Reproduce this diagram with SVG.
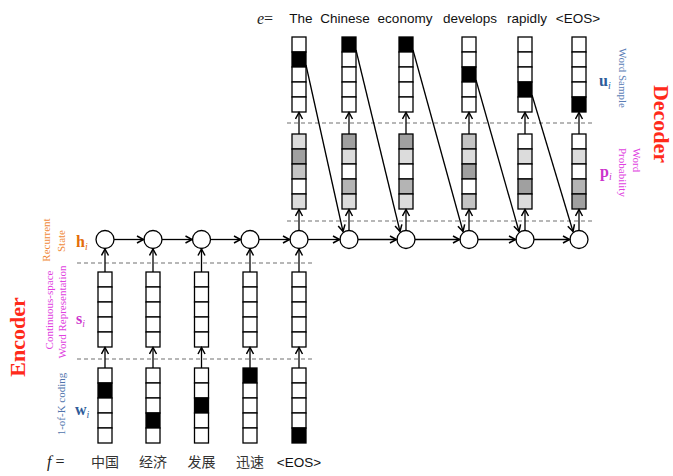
<svg xmlns="http://www.w3.org/2000/svg" width="673" height="476" viewBox="0 0 673 476">
<defs>
<marker id="ah" markerUnits="userSpaceOnUse" markerWidth="10" markerHeight="10" refX="7.5" refY="4.5" orient="auto">
<path d="M1,1 L7.5,4.5 L1,8" fill="none" stroke="#000" stroke-width="1.5"/>
</marker>
<style>
.cell{fill:#fff;stroke:#000;stroke-width:1.3}
.blk{fill:#000;stroke:#000;stroke-width:1.3}
.g1{fill:#dcdcdc;stroke:#000;stroke-width:1.3}
.g2{fill:#c4c4c4;stroke:#000;stroke-width:1.3}
.g3{fill:#a0a0a0;stroke:#000;stroke-width:1.3}
.g4{fill:#b4b4b4;stroke:#000;stroke-width:1.3}
.node{fill:#fff;stroke:#000;stroke-width:1.3}
.ar{stroke:#000;stroke-width:1.3;fill:none;marker-end:url(#ah)}
.dash{stroke:#a0a0a0;stroke-width:1.6;stroke-dasharray:4 3;fill:none}
.word{font-family:"Liberation Sans",Arial,sans-serif;font-size:13.5px;fill:#111;text-anchor:middle}
.zh{font-family:"Noto Sans CJK SC","Noto Sans",sans-serif;font-size:14px;fill:#333;text-anchor:middle}
.lab{font-family:"Liberation Serif","Times New Roman",serif;font-size:11px}
.sym{font-family:"Liberation Serif","Times New Roman",serif;font-size:16px;font-weight:bold}
.sub{font-size:10px;font-style:italic;font-weight:normal}
.big{font-family:"Liberation Serif","Times New Roman",serif;font-size:22px;font-weight:bold;fill:#ff2a1a;text-anchor:middle}
</style>
</defs>

<!-- dashed separators -->
<g id="separators">
<line class="dash" x1="77" y1="263" x2="312" y2="263"/>
<line class="dash" x1="77" y1="359" x2="312" y2="359"/>
<line class="dash" x1="287" y1="123" x2="592" y2="123"/>
<line class="dash" x1="287" y1="221" x2="592" y2="221"/>
</g>

<!-- Encoder columns -->
<g id="enc1">
<rect class="cell" x="98" y="272" width="14" height="15"/><rect class="cell" x="98" y="287" width="14" height="15"/><rect class="cell" x="98" y="302" width="14" height="15"/><rect class="cell" x="98" y="317" width="14" height="15"/><rect class="cell" x="98" y="332" width="14" height="15"/>
<rect class="cell" x="98" y="368" width="14" height="15"/><rect class="blk" x="98" y="383" width="14" height="15"/><rect class="cell" x="98" y="398" width="14" height="15"/><rect class="cell" x="98" y="413" width="14" height="15"/><rect class="cell" x="98" y="428" width="14" height="15"/>
<circle class="node" cx="105" cy="239.5" r="9"/>
<text class="zh" x="105" y="467">中国</text>
</g>
<g id="enc2">
<rect class="cell" x="146" y="272" width="14" height="15"/><rect class="cell" x="146" y="287" width="14" height="15"/><rect class="cell" x="146" y="302" width="14" height="15"/><rect class="cell" x="146" y="317" width="14" height="15"/><rect class="cell" x="146" y="332" width="14" height="15"/>
<rect class="cell" x="146" y="368" width="14" height="15"/><rect class="cell" x="146" y="383" width="14" height="15"/><rect class="cell" x="146" y="398" width="14" height="15"/><rect class="blk" x="146" y="413" width="14" height="15"/><rect class="cell" x="146" y="428" width="14" height="15"/>
<circle class="node" cx="153" cy="239.5" r="9"/>
<text class="zh" x="153" y="467">经济</text>
</g>
<g id="enc3">
<rect class="cell" x="194.5" y="272" width="14" height="15"/><rect class="cell" x="194.5" y="287" width="14" height="15"/><rect class="cell" x="194.5" y="302" width="14" height="15"/><rect class="cell" x="194.5" y="317" width="14" height="15"/><rect class="cell" x="194.5" y="332" width="14" height="15"/>
<rect class="cell" x="194.5" y="368" width="14" height="15"/><rect class="cell" x="194.5" y="383" width="14" height="15"/><rect class="blk" x="194.5" y="398" width="14" height="15"/><rect class="cell" x="194.5" y="413" width="14" height="15"/><rect class="cell" x="194.5" y="428" width="14" height="15"/>
<circle class="node" cx="201.5" cy="239.5" r="9"/>
<text class="zh" x="201.5" y="467">发展</text>
</g>
<g id="enc4">
<rect class="cell" x="243" y="272" width="14" height="15"/><rect class="cell" x="243" y="287" width="14" height="15"/><rect class="cell" x="243" y="302" width="14" height="15"/><rect class="cell" x="243" y="317" width="14" height="15"/><rect class="cell" x="243" y="332" width="14" height="15"/>
<rect class="blk" x="243" y="368" width="14" height="15"/><rect class="cell" x="243" y="383" width="14" height="15"/><rect class="cell" x="243" y="398" width="14" height="15"/><rect class="cell" x="243" y="413" width="14" height="15"/><rect class="cell" x="243" y="428" width="14" height="15"/>
<circle class="node" cx="250" cy="239.5" r="9"/>
<text class="zh" x="250" y="467">迅速</text>
</g>
<g id="enc5">
<rect class="cell" x="292" y="272" width="14" height="15"/><rect class="cell" x="292" y="287" width="14" height="15"/><rect class="cell" x="292" y="302" width="14" height="15"/><rect class="cell" x="292" y="317" width="14" height="15"/><rect class="cell" x="292" y="332" width="14" height="15"/>
<rect class="cell" x="292" y="368" width="14" height="15"/><rect class="cell" x="292" y="383" width="14" height="15"/><rect class="cell" x="292" y="398" width="14" height="15"/><rect class="cell" x="292" y="413" width="14" height="15"/><rect class="blk" x="292" y="428" width="14" height="15"/>
<circle class="node" cx="299" cy="239.5" r="9"/>
<text class="word" x="299" y="467">&lt;EOS&gt;</text>
</g>

<!-- Decoder columns -->
<g id="dec1">
<rect class="cell" x="292" y="37" width="14" height="15"/><rect class="blk" x="292" y="52" width="14" height="15"/><rect class="cell" x="292" y="67" width="14" height="15"/><rect class="cell" x="292" y="82" width="14" height="15"/><rect class="cell" x="292" y="97" width="14" height="15"/>
<rect class="g1" x="292" y="134" width="14" height="15"/><rect class="g3" x="292" y="149" width="14" height="15"/><rect class="g2" x="292" y="164" width="14" height="15"/><rect class="cell" x="292" y="179" width="14" height="15"/><rect class="g1" x="292" y="194" width="14" height="15"/>
<text class="word" x="301" y="23">The</text>
</g>
<g id="dec2">
<rect class="blk" x="342" y="37" width="14" height="15"/><rect class="cell" x="342" y="52" width="14" height="15"/><rect class="cell" x="342" y="67" width="14" height="15"/><rect class="cell" x="342" y="82" width="14" height="15"/><rect class="cell" x="342" y="97" width="14" height="15"/>
<rect class="g3" x="342" y="134" width="14" height="15"/><rect class="g1" x="342" y="149" width="14" height="15"/><rect class="cell" x="342" y="164" width="14" height="15"/><rect class="g4" x="342" y="179" width="14" height="15"/><rect class="g1" x="342" y="194" width="14" height="15"/>
<circle class="node" cx="349" cy="239.5" r="9"/>
<text class="word" x="345" y="23">Chinese</text>
</g>
<g id="dec3">
<rect class="blk" x="399" y="37" width="14" height="15"/><rect class="cell" x="399" y="52" width="14" height="15"/><rect class="cell" x="399" y="67" width="14" height="15"/><rect class="cell" x="399" y="82" width="14" height="15"/><rect class="cell" x="399" y="97" width="14" height="15"/>
<rect class="g3" x="399" y="134" width="14" height="15"/><rect class="g1" x="399" y="149" width="14" height="15"/><rect class="cell" x="399" y="164" width="14" height="15"/><rect class="g4" x="399" y="179" width="14" height="15"/><rect class="g1" x="399" y="194" width="14" height="15"/>
<circle class="node" cx="406" cy="239.5" r="9"/>
<text class="word" x="405" y="23">economy</text>
</g>
<g id="dec4">
<rect class="cell" x="462" y="37" width="14" height="15"/><rect class="cell" x="462" y="52" width="14" height="15"/><rect class="blk" x="462" y="67" width="14" height="15"/><rect class="cell" x="462" y="82" width="14" height="15"/><rect class="cell" x="462" y="97" width="14" height="15"/>
<rect class="g2" x="462" y="134" width="14" height="15"/><rect class="g1" x="462" y="149" width="14" height="15"/><rect class="g3" x="462" y="164" width="14" height="15"/><rect class="cell" x="462" y="179" width="14" height="15"/><rect class="g2" x="462" y="194" width="14" height="15"/>
<circle class="node" cx="469" cy="239.5" r="9"/>
<text class="word" x="470" y="23">develops</text>
</g>
<g id="dec5">
<rect class="cell" x="518" y="37" width="14" height="15"/><rect class="cell" x="518" y="52" width="14" height="15"/><rect class="cell" x="518" y="67" width="14" height="15"/><rect class="blk" x="518" y="82" width="14" height="15"/><rect class="cell" x="518" y="97" width="14" height="15"/>
<rect class="cell" x="518" y="134" width="14" height="15"/><rect class="g1" x="518" y="149" width="14" height="15"/><rect class="cell" x="518" y="164" width="14" height="15"/><rect class="g3" x="518" y="179" width="14" height="15"/><rect class="g1" x="518" y="194" width="14" height="15"/>
<circle class="node" cx="525" cy="239.5" r="9"/>
<text class="word" x="527" y="23">rapidly</text>
</g>
<g id="dec6">
<rect class="cell" x="572" y="37" width="14" height="15"/><rect class="cell" x="572" y="52" width="14" height="15"/><rect class="cell" x="572" y="67" width="14" height="15"/><rect class="cell" x="572" y="82" width="14" height="15"/><rect class="blk" x="572" y="97" width="14" height="15"/>
<rect class="cell" x="572" y="134" width="14" height="15"/><rect class="g1" x="572" y="149" width="14" height="15"/><rect class="cell" x="572" y="164" width="14" height="15"/><rect class="g4" x="572" y="179" width="14" height="15"/><rect class="g3" x="572" y="194" width="14" height="15"/>
<circle class="node" cx="579" cy="239.5" r="9"/>
<text class="word" x="578" y="23">&lt;EOS&gt;</text>
</g>

<!-- connectors -->
<g id="connectors">
<!-- encoder w -> s -->
<line class="ar" x1="105" y1="368" x2="105" y2="347.5"/>
<line class="ar" x1="153" y1="368" x2="153" y2="347.5"/>
<line class="ar" x1="201.5" y1="368" x2="201.5" y2="347.5"/>
<line class="ar" x1="250" y1="368" x2="250" y2="347.5"/>
<line class="ar" x1="299" y1="368" x2="299" y2="347.5"/>
<!-- encoder s -> h -->
<line class="ar" x1="105" y1="272" x2="105" y2="249"/>
<line class="ar" x1="153" y1="272" x2="153" y2="249"/>
<line class="ar" x1="201.5" y1="272" x2="201.5" y2="249"/>
<line class="ar" x1="250" y1="272" x2="250" y2="249"/>
<line class="ar" x1="299" y1="272" x2="299" y2="249"/>
<!-- recurrent h -> h -->
<line class="ar" x1="114" y1="239.5" x2="143.5" y2="239.5"/>
<line class="ar" x1="162" y1="239.5" x2="192" y2="239.5"/>
<line class="ar" x1="210.5" y1="239.5" x2="240.5" y2="239.5"/>
<line class="ar" x1="259" y1="239.5" x2="289.5" y2="239.5"/>
<line class="ar" x1="308" y1="239.5" x2="339.5" y2="239.5"/>
<line class="ar" x1="358" y1="239.5" x2="396.5" y2="239.5"/>
<line class="ar" x1="415" y1="239.5" x2="459.5" y2="239.5"/>
<line class="ar" x1="478" y1="239.5" x2="515.5" y2="239.5"/>
<line class="ar" x1="534" y1="239.5" x2="569.5" y2="239.5"/>
<!-- decoder h -> p -->
<line class="ar" x1="299" y1="230.5" x2="299" y2="209.5"/>
<line class="ar" x1="349" y1="230.5" x2="349" y2="209.5"/>
<line class="ar" x1="406" y1="230.5" x2="406" y2="209.5"/>
<line class="ar" x1="469" y1="230.5" x2="469" y2="209.5"/>
<line class="ar" x1="525" y1="230.5" x2="525" y2="209.5"/>
<line class="ar" x1="579" y1="230.5" x2="579" y2="209.5"/>
<!-- decoder p -> u -->
<line class="ar" x1="299" y1="134" x2="299" y2="112.5"/>
<line class="ar" x1="349" y1="134" x2="349" y2="112.5"/>
<line class="ar" x1="406" y1="134" x2="406" y2="112.5"/>
<line class="ar" x1="469" y1="134" x2="469" y2="112.5"/>
<line class="ar" x1="525" y1="134" x2="525" y2="112.5"/>
<line class="ar" x1="579" y1="134" x2="579" y2="112.5"/>
<!-- feedback u -> next h -->
<line class="ar" x1="306" y1="65" x2="343" y2="231.5"/>
<line class="ar" x1="356" y1="50" x2="400" y2="231.5"/>
<line class="ar" x1="413" y1="50" x2="463" y2="231.5"/>
<line class="ar" x1="476" y1="80" x2="519" y2="231.5"/>
<line class="ar" x1="532" y1="95" x2="573" y2="231.5"/>
</g>

<!-- sequence labels -->
<g id="seq-labels">
<text x="257" y="24" font-family="Liberation Serif, serif" font-size="16" font-style="italic" fill="#222">e<tspan font-style="normal">=</tspan></text>
<text x="47" y="467" font-family="Liberation Serif, serif" font-size="16" font-style="italic" fill="#222">f<tspan font-style="normal"> =</tspan></text>
</g>

<!-- encoder labels -->
<g id="encoder-labels">
<text class="big" transform="translate(25,337) rotate(-90)">Encoder</text>
<text class="lab" fill="#f08a3a" text-anchor="middle" transform="translate(50,240) rotate(-90)">Recurrent</text>
<text class="lab" fill="#f08a3a" text-anchor="middle" transform="translate(65,241) rotate(-90)">State</text>
<text class="lab" fill="#e040e0" text-anchor="middle" transform="translate(53,310) rotate(-90)">Continuous-space</text>
<text class="lab" fill="#e040e0" text-anchor="middle" transform="translate(66,312) rotate(-90)">Word Representation</text>
<text class="lab" fill="#4f74ad" text-anchor="middle" transform="translate(65,404) rotate(-90)">1-of-K coding</text>
<text class="sym" x="76" y="247" fill="#e46c0a">h<tspan class="sub" dy="3">i</tspan></text>
<text class="sym" x="76" y="324" fill="#cc33cc">s<tspan class="sub" dy="3">i</tspan></text>
<text class="sym" x="75" y="415" fill="#2e5c9a">w<tspan class="sub" dy="3">i</tspan></text>
</g>

<!-- decoder labels -->
<g id="decoder-labels">
<text class="big" transform="translate(654,124) rotate(90)">Decoder</text>
<text class="lab" fill="#5a7db5" text-anchor="middle" transform="translate(619,78) rotate(90)">Word Sample</text>
<text class="lab" fill="#e040e0" text-anchor="start" transform="translate(633,148) rotate(90)">Word</text>
<text class="lab" fill="#e040e0" text-anchor="start" transform="translate(619,148) rotate(90)">Probability</text>
<text class="sym" x="599" y="86" fill="#2e5c9a">u<tspan class="sub" dy="3">i</tspan></text>
<text class="sym" x="600" y="177" fill="#cc33cc">p<tspan class="sub" dy="3">i</tspan></text>
</g>
</svg>
